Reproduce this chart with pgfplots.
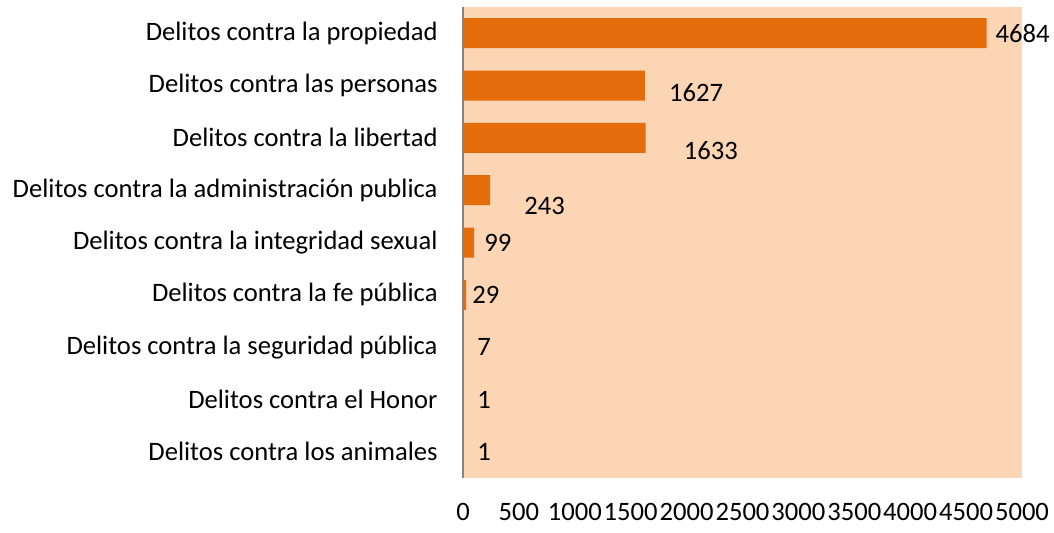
\documentclass[border=0pt]{standalone}
\usepackage{pgfplots}
\pgfplotsset{compat=1.18}
\usepackage{fontspec}
\setmainfont{Carlito}
\definecolor{barorange}{HTML}{E46C0A}
\definecolor{peach}{HTML}{FCD5B5}
\definecolor{axgray}{HTML}{868686}
\begin{document}
\begin{tikzpicture}[font=\fontsize{13.3pt}{15pt}\selectfont]
\useasboundingbox (-231.5pt,-27pt) rectangle (295.5pt,239pt);
\begin{axis}[
  at={(0,0)}, anchor=south west,
  scale only axis, width=279.5pt, height=235.5pt,
  xbar, bar width=0.573,
  xmin=0, xmax=5000, ymin=-0.5, ymax=8.5, y dir=reverse,
  axis background/.style={fill=peach},
  axis line style={draw=none},
  major tick length=0pt,
  xtick={0,500,...,5000},
  xticklabels={0,500,1000,1500,2000,2500,3000,3500,4000,4500,5000},
  ytick={0,1,2,3,4,5,6,7,8},
  yticklabels={Delitos contra la propiedad,Delitos contra las personas,Delitos contra la libertad,Delitos contra la administración publica,Delitos contra la integridad sexual,Delitos contra la fe pública,Delitos contra la seguridad pública,Delitos contra el Honor,Delitos contra los animales},
  yticklabel style={anchor=east, inner sep=0pt, xshift=-12.5pt},
  xticklabel style={anchor=north, inner sep=0pt, yshift=-12.5pt},
  tick label style={font=\fontsize{13.3pt}{15pt}\selectfont},
  clip=false,
]
\addplot[draw=none, fill=barorange] coordinates {
(4684,0) (1627,1) (1633,2) (243,3) (99,4) (29,5) (7,6) (1,7) (1,8)};
\draw[axgray, line width=1pt] (axis cs:0,-0.5) -- (axis cs:0,8.5);
\node[anchor=west, inner sep=0pt] at (axis cs:4760,0) {4684};
\node[anchor=west, inner sep=0pt] at (axis cs:1840,1.14) {1627};
\node[anchor=west, inner sep=0pt] at (axis cs:1972,2.25) {1633};
\node[anchor=west, inner sep=0pt] at (axis cs:546,3.30) {243};
\node[anchor=west, inner sep=0pt] at (axis cs:188,4) {99};
\node[anchor=west, inner sep=0pt] at (axis cs:80,5) {29};
\node[anchor=west, inner sep=0pt] at (axis cs:125,6) {7};
\node[anchor=west, inner sep=0pt] at (axis cs:125,7) {1};
\node[anchor=west, inner sep=0pt] at (axis cs:125,8) {1};
\end{axis}
\end{tikzpicture}
\end{document}
